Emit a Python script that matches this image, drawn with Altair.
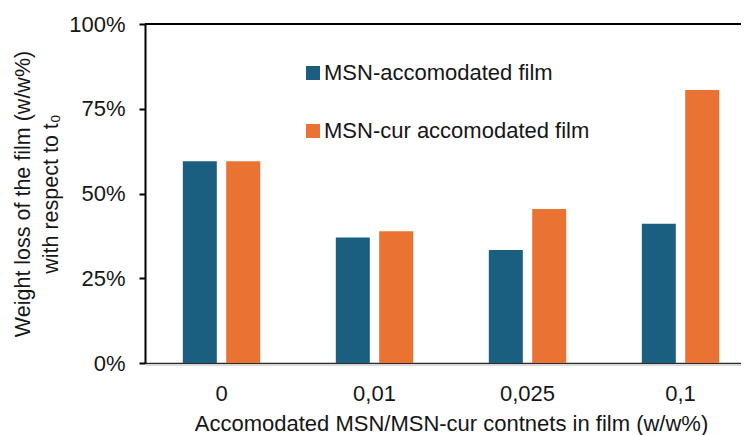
import altair as alt
import pandas as pd

categories = ["0", "0,01", "0,025", "0,1"]
series = ["MSN-accomodated film", "MSN-cur accomodated film"]
msn = [0.595, 0.370, 0.333, 0.411]
msn_cur = [0.595, 0.389, 0.454, 0.805]
colors = ["#1a5e80", "#ea7333"]
y_ticks = [0, 0.25, 0.5, 0.75, 1.0]

rows = []
for c, a, b in zip(categories, msn, msn_cur):
    rows.append({"content": c, "series": series[0], "loss": a})
    rows.append({"content": c, "series": series[1], "loss": b})
df = pd.DataFrame(rows)

W, H = 596, 339
FONT = "Arial, Liberation Sans, sans-serif"
TXT = "#161616"
FS = 22

bars = alt.Chart(df).mark_bar().encode(
    x=alt.X(
        "content:N",
        sort=categories,
        scale=alt.Scale(range=[0, 612], paddingInner=0, paddingOuter=0),
        axis=alt.Axis(
            title="Accomodated MSN/MSN-cur contnets in film (w/w%)",
            labelAngle=0, ticks=False, domain=True, domainColor="#2b2b2b",
            domainWidth=1.5, labelPadding=20, titlePadding=9,
            labelFontSize=FS, titleFontSize=FS, labelFont=FONT, titleFont=FONT,
            labelColor=TXT, titleColor=TXT, titleFontWeight="normal",
        ),
    ),
    xOffset=alt.XOffset(
        "series:N", sort=series,
        scale=alt.Scale(paddingInner=0.2166, paddingOuter=0.871),
    ),
    y=alt.Y(
        "loss:Q",
        scale=alt.Scale(domain=[0, 1]),
        axis=alt.Axis(
            values=y_ticks, format=".0%",
            title=["Weight loss of the film (w/w%)", "with respect to t\u2080"],
            grid=False, domainColor="black", domainWidth=2,
            tickColor="black", tickWidth=2, tickSize=6, labelPadding=14,
            titlePadding=6, titleLineHeight=28,
            labelFontSize=FS, titleFontSize=21.5, labelFont=FONT, titleFont=FONT,
            labelColor=TXT, titleColor=TXT, titleFontWeight="normal",
        ),
    ),
    color=alt.Color(
        "series:N", sort=series,
        scale=alt.Scale(domain=series, range=colors),
        legend=alt.Legend(
            title=None, orient="none", legendX=153, legendY=38,
            direction="vertical", symbolType="square", symbolSize=196,
            symbolStrokeWidth=0, symbolOpacity=1, symbolOffset=4,
            labelFontSize=FS, labelFont=FONT, labelColor=TXT,
            rowPadding=36, padding=0, labelOffset=0, labelLimit=400,
        ),
    ),
)

top_line = alt.Chart(pd.DataFrame({"k": [0]})).mark_rule(
    color="black", strokeWidth=2
).encode(x=alt.value(0), x2=alt.value(W), y=alt.value(0))

shadow_line = alt.Chart(pd.DataFrame({"k": [0]})).mark_rule(
    color="#d9d9d9", strokeWidth=2
).encode(x=alt.value(1), x2=alt.value(W), y=alt.value(H + 2))

chart = alt.layer(shadow_line, bars, top_line).properties(
    width=W, height=H,
    autosize=alt.AutoSizeParams(type="none"),
    padding={"left": 137, "top": 16, "right": 0, "bottom": 74},
).configure_view(stroke=None).configure(background="white")

chart.save("out.html", embed_options={"renderer": "svg", "actions": False})
